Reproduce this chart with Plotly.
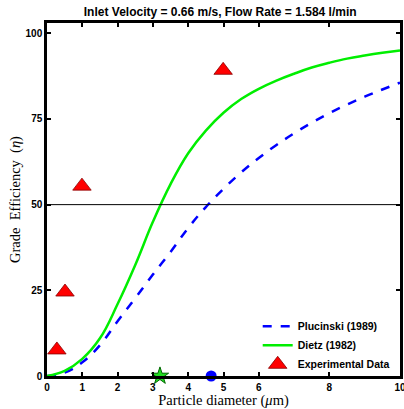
import plotly.graph_objects as go

# Data
x_curve = [0, 0.5, 1, 1.5, 2, 2.5, 3, 3.5, 4, 4.5, 5, 5.5, 6, 6.5, 7, 7.5, 8, 8.5, 9, 9.5, 10]
plucinski = [0, 1.0, 4.0, 9.0, 16.0, 22.7, 29.6, 36.2, 43.2, 49.3, 54.6, 59.4, 63.6, 67.4,
             70.8, 73.9, 76.7, 79.2, 81.5, 83.6, 85.6]
dietz = [0, 1.5, 5.0, 11.0, 21.0, 32.4, 45.0, 56.0, 65.0, 71.6, 76.8, 80.8, 83.8, 86.2,
         88.2, 90.0, 91.4, 92.6, 93.5, 94.3, 95.0]

exp_x = [0.28, 0.51, 0.99, 4.99]
exp_y = [7.6, 24.5, 55.4, 89.2]

d50_dietz = [3.2]
d50_plucinski = [4.65]

x_ticks = [0, 1, 2, 3, 4, 5, 6, 8, 10]
y_ticks = [0, 25, 50, 75, 100]

fig = go.Figure()

fig.add_trace(go.Scatter(x=x_curve, y=plucinski, mode="lines", name="<b>Plucinski (1989)</b>",
                         line=dict(color="#0000ff", width=2.5, dash="dash", shape="spline",
                                   smoothing=1.2)))
fig.add_trace(go.Scatter(x=x_curve, y=dietz, mode="lines", name="<b>Dietz (1982)</b>",
                         line=dict(color="#00ee00", width=2.5, shape="spline", smoothing=1.2)))
fig.add_trace(go.Scatter(x=exp_x, y=exp_y, mode="markers", name="<b>Experimental Data</b>",
                         marker=dict(symbol="triangle-up", size=16, color="#ff0000",
                                     line=dict(color="#880000", width=0.8))))
fig.add_trace(go.Scatter(x=d50_dietz, y=[0], mode="markers", showlegend=False, cliponaxis=False,
                         marker=dict(symbol="star", size=13, color="#22dd22",
                                     line=dict(color="#006600", width=1))))
fig.add_trace(go.Scatter(x=d50_plucinski, y=[0], mode="markers", showlegend=False, cliponaxis=False,
                         marker=dict(symbol="circle", size=11, color="#0000ff")))

fig.add_shape(type="line", xref="paper", x0=0, x1=1, yref="y", y0=50, y1=50,
              line=dict(color="black", width=1))

fig.update_layout(
    width=404, height=409,
    margin=dict(l=47, r=4, t=23, b=33),
    paper_bgcolor="white", plot_bgcolor="white",
    title=dict(text="<b>Inlet Velocity = 0.66 m/s, Flow Rate = 1.584 l/min</b>",
               x=0.545, xanchor="center", y=0.972, yanchor="middle",
               font=dict(family="Liberation Sans, Arial", size=12, color="black")),
    showlegend=True,
    legend=dict(x=0.985, y=-0.008, xanchor="right", yanchor="bottom",
                bgcolor="rgba(255,255,255,0)", borderwidth=0,
                font=dict(family="Liberation Sans, Arial", size=10.5, color="black"),
                tracegroupgap=0, itemwidth=30),
    font=dict(family="Liberation Sans, Arial", color="black"),
)

fig.update_xaxes(range=[0, 10], tickvals=x_ticks, ticktext=[f"<b>{v}</b>" for v in x_ticks],
                 ticks="inside", ticklen=4, tickwidth=2, tickcolor="black",
                 showline=True, linecolor="black", linewidth=2.5, mirror="ticks",
                 showgrid=False, zeroline=False, automargin=False, ticklabeloverflow="allow",
                 tickfont=dict(size=10, family="Liberation Sans, Arial"),
                 title=dict(text="Particle diameter (<i>μ</i>m)", standoff=1,
                            font=dict(family="Liberation Serif, DejaVu Serif", size=14.5)))
fig.update_yaxes(range=[0, 103], tickvals=y_ticks, ticktext=[f"<b>{v}</b>" for v in y_ticks],
                 ticks="inside", ticklen=4, tickwidth=2, tickcolor="black",
                 showline=True, linecolor="black", linewidth=2.5, mirror="ticks",
                 showgrid=False, zeroline=False, automargin=False, ticklabeloverflow="allow",
                 tickfont=dict(size=10, family="Liberation Sans, Arial"),
                 title=dict(text="Grade&nbsp;&nbsp;Efficiency&nbsp;&nbsp;(<i>η</i>)", standoff=2,
                            font=dict(family="Liberation Serif, DejaVu Serif", size=14.5)))

fig.write_html("out.html", config={"displayModeBar": False},
               post_script="document.body.style.margin='0';document.body.style.padding='0';")
